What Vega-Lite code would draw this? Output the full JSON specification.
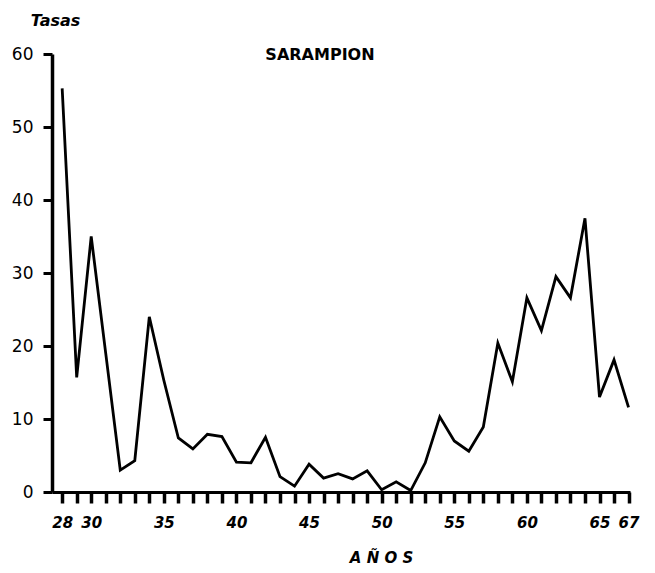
{
  "$schema": "https://vega.github.io/schema/vega-lite/v6.json",
  "autosize": "none",
  "width": 578,
  "height": 438,
  "padding": {"left": 52, "top": 54, "right": 25, "bottom": 81},
  "background": "white",
  "title": {
    "text": "SARAMPION",
    "anchor": "start",
    "dx": 254,
    "offset": -59,
    "baseline": "middle",
    "font": "DejaVu Sans",
    "fontSize": 16,
    "fontWeight": "bold",
    "color": "black"
  },
  "config": {
    "view": {"stroke": null},
    "axis": {"grid": false, "domainColor": "black", "tickColor": "black", "labelColor": "black", "titleColor": "black"}
  },
  "data": {
    "values": [
      {"year": 28, "tasa": 55.3},
      {"year": 29, "tasa": 15.7},
      {"year": 30, "tasa": 35.0},
      {"year": 31, "tasa": 19.0},
      {"year": 32, "tasa": 3.0},
      {"year": 33, "tasa": 4.3},
      {"year": 34, "tasa": 24.0},
      {"year": 35, "tasa": 15.3},
      {"year": 36, "tasa": 7.4},
      {"year": 37, "tasa": 5.9},
      {"year": 38, "tasa": 7.9},
      {"year": 39, "tasa": 7.6},
      {"year": 40, "tasa": 4.1},
      {"year": 41, "tasa": 4.0},
      {"year": 42, "tasa": 7.5},
      {"year": 43, "tasa": 2.1},
      {"year": 44, "tasa": 0.8},
      {"year": 45, "tasa": 3.8},
      {"year": 46, "tasa": 1.9},
      {"year": 47, "tasa": 2.5},
      {"year": 48, "tasa": 1.8},
      {"year": 49, "tasa": 2.9},
      {"year": 50, "tasa": 0.3},
      {"year": 51, "tasa": 1.4},
      {"year": 52, "tasa": 0.2},
      {"year": 53, "tasa": 4.0},
      {"year": 54, "tasa": 10.3},
      {"year": 55, "tasa": 7.0},
      {"year": 56, "tasa": 5.6},
      {"year": 57, "tasa": 8.9},
      {"year": 58, "tasa": 20.4},
      {"year": 59, "tasa": 15.1},
      {"year": 60, "tasa": 26.6},
      {"year": 61, "tasa": 22.1},
      {"year": 62, "tasa": 29.5},
      {"year": 63, "tasa": 26.6},
      {"year": 64, "tasa": 37.5},
      {"year": 65, "tasa": 13.0},
      {"year": 66, "tasa": 18.1},
      {"year": 67, "tasa": 11.6}
    ]
  },
  "mark": {"type": "line", "color": "black", "strokeWidth": 2.8, "strokeJoin": "miter"},
  "encoding": {
    "x": {
      "field": "year",
      "type": "quantitative",
      "scale": {"domain": [27.3, 67.1], "nice": false, "zero": false},
      "axis": {
        "values": [28,29,30,31,32,33,34,35,36,37,38,39,40,41,42,43,44,45,46,47,48,49,50,51,52,53,54,55,56,57,58,59,60,61,62,63,64,65,66,67],
        "labelExpr": "indexof([28,30,35,40,45,50,55,60,65,67], datum.value) >= 0 ? datum.label : ''",
        "labelFlush": false,
        "labelOverlap": false,
        "domainWidth": 3,
        "tickWidth": 3.5,
        "tickSize": 11,
        "labelPadding": 12,
        "labelFont": "DejaVu Sans",
        "labelFontStyle": "italic",
        "labelFontWeight": "bold",
        "labelFontSize": 15,
        "title": "A Ñ O S",
        "titleFont": "DejaVu Sans",
        "titleFontStyle": "italic",
        "titleFontWeight": "bold",
        "titleFontSize": 15,
        "titleX": 329,
        "titleY": 65,
        "titleAlign": "center",
        "titleBaseline": "middle"
      }
    },
    "y": {
      "field": "tasa",
      "type": "quantitative",
      "scale": {"domain": [0, 60], "nice": false},
      "axis": {
        "values": [0, 10, 20, 30, 40, 50, 60],
        "domainWidth": 3.5,
        "tickWidth": 3,
        "tickSize": 9,
        "labelPadding": 10,
        "labelFont": "DejaVu Sans",
        "labelFontSize": 17,
        "title": "Tasas",
        "titleAngle": 0,
        "titleFont": "DejaVu Sans",
        "titleFontStyle": "italic",
        "titleFontWeight": "bold",
        "titleFontSize": 16,
        "titleX": 3,
        "titleY": -34,
        "titleAlign": "center",
        "titleBaseline": "middle"
      }
    }
  }
}
